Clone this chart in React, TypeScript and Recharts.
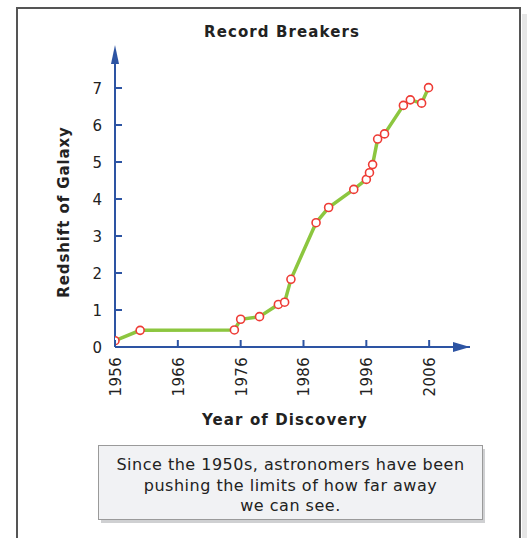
import React from "react";
import { LineChart, Line, XAxis, YAxis, ReferenceDot } from "recharts";

const years = [1956, 1960, 1975, 1976, 1979, 1982, 1983, 1984, 1988, 1990, 1994, 1996, 1996.5, 1997, 1997.8, 1998.9, 2001.9, 2003, 2004.8, 2005.9];
const redshift = [0.17, 0.45, 0.46, 0.75, 0.82, 1.15, 1.21, 1.83, 3.36, 3.77, 4.26, 4.53, 4.71, 4.93, 5.62, 5.76, 6.53, 6.68, 6.59, 7.01];
const xTicks = [1956, 1966, 1976, 1986, 1996, 2006];
const yTicks = [0, 1, 2, 3, 4, 5, 6, 7];
const title = "Record Breakers";
const xLabel = "Year of Discovery";
const yLabel = "Redshift of Galaxy";
const noteLines = ["Since the 1950s, astronomers have been", "pushing the limits of how far away", "we can see."];

const data = years.map((y, i) => ({ year: y, z: redshift[i] }));

const FONT = "'DejaVu Sans', Verdana, sans-serif";
const BLUE = "#2d54a3";
const GREEN = "#8cc63f";
const RED = "#ee3b35";
const TEXT = "#222";

const YTick = (props: any) => {
  const { x, y, payload } = props;
  return (
    <g>
      <line x1={x} x2={x + 7} y1={y} y2={y} stroke={BLUE} strokeWidth={2} />
      <text x={x - 13} y={y + 5.5} textAnchor="end" fontSize={15} fill={TEXT} fontFamily={FONT}>
        {payload.value}
      </text>
    </g>
  );
};

const XTick = (props: any) => {
  const { x, y, payload } = props;
  return (
    <g>
      <line x1={x} x2={x} y1={y} y2={y - 7} stroke={BLUE} strokeWidth={2} />
      <text
        transform={`translate(${x + 6},${y + 10}) rotate(-90)`}
        textAnchor="end"
        fontSize={15}
        fill={TEXT}
        fontFamily={FONT}
        letterSpacing={0.3}
      >
        {payload.value}
      </text>
    </g>
  );
};

const UpArrow = (props: any) => {
  const { cx, cy } = props;
  return <path d={`M${cx},${cy - 6} L${cx + 4},${cy + 13} L${cx - 4},${cy + 13} Z`} fill={BLUE} />;
};

const RightArrow = (props: any) => {
  const { cx, cy } = props;
  return <path d={`M${cx},${cy} L${cx - 17},${cy - 5} L${cx - 17},${cy + 5} Z`} fill={BLUE} />;
};

const Dot = (props: any) => {
  const { cx, cy, index } = props;
  return <circle key={index} cx={cx} cy={cy} r={4} fill="#fff" stroke={RED} strokeWidth={1.6} />;
};

export default function App() {
  return (
    <div style={{ position: "absolute", left: 0, top: 0, width: 527, height: 538, background: "#fff", overflow: "hidden", fontFamily: FONT }}>
      <div style={{ position: "absolute", left: 522, top: 14, width: 5, height: 524, background: "#e6e6e6" }} />
      <div style={{ position: "absolute", left: 16, top: 7, width: 501, height: 560, border: "2px solid #555", boxSizing: "content-box" }} />
      <div style={{ position: "absolute", left: 101, top: 449, width: 384, height: 74, background: "#cfd0d2" }} />
      <div style={{ position: "absolute", left: 98, top: 445, width: 383, height: 73, background: "#f1f2f4", border: "1px solid #9a9a9a" }} />
      <div style={{ position: "absolute", left: 98, top: 455, width: 385, textAlign: "center", fontSize: 16, letterSpacing: "0.5px", lineHeight: "20.5px", color: TEXT }}>
        {noteLines.map((l, i) => (
          <div key={i}>{l}</div>
        ))}
      </div>
      <div style={{ position: "absolute", left: 0, top: 0 }}>
        <LineChart width={527} height={538} data={data} margin={{ top: 51, right: 57, bottom: 151, left: 55 }}>
          <text x={282} y={37} textAnchor="middle" fontSize={15} fontWeight="bold" fill={TEXT} fontFamily={FONT} letterSpacing={1.1}>
            {title}
          </text>
          <text x={285} y={425} textAnchor="middle" fontSize={15} fontWeight="bold" fill={TEXT} fontFamily={FONT} letterSpacing={1.1}>
            {xLabel}
          </text>
          <text transform="translate(69,212) rotate(-90)" textAnchor="middle" fontSize={15} fontWeight="bold" fill={TEXT} fontFamily={FONT} letterSpacing={0.9}>
            {yLabel}
          </text>
          <XAxis
            dataKey="year"
            type="number"
            domain={[1956, 2012.5]}
            ticks={xTicks}
            allowDataOverflow
            axisLine={{ stroke: BLUE, strokeWidth: 2 }}
            tickLine={false}
            tickSize={0}
            tickMargin={0}
            height={40}
            tick={<XTick />}
            interval={0}
          />
          <YAxis
            type="number"
            domain={[0, 8]}
            ticks={yTicks}
            allowDataOverflow
            axisLine={{ stroke: BLUE, strokeWidth: 2 }}
            tickLine={false}
            tickSize={0}
            tickMargin={0}
            width={60}
            tick={<YTick />}
            interval={0}
          />
          <Line
            type="linear"
            dataKey="z"
            stroke={GREEN}
            strokeWidth={3.5}
            dot={<Dot />}
            activeDot={false}
            isAnimationActive={false}
          />
          <ReferenceDot x={1956} y={8} ifOverflow="visible" shape={<UpArrow />} />
          <ReferenceDot x={2012.5} y={0} ifOverflow="visible" shape={<RightArrow />} />
        </LineChart>
      </div>
    </div>
  );
}
